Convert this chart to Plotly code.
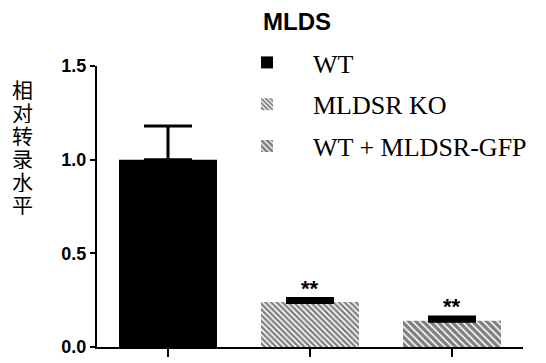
import plotly.graph_objects as go

groups = ["WT", "MLDSR KO", "WT + MLDSR-GFP"]
values = [1.0, 0.24, 0.14]
errors = [0.18, 0.016, 0.018]
sig_marks = ["", "**", "**"]
y_label_chars = ["相", "对", "转", "录", "水", "平"]
y_ticks = [0.0, 0.5, 1.0, 1.5]
title_text = "MLDS"

pattern_shapes = ["", "\\", "\\"]
pattern_sizes = [0, 4, 5]
pattern_solidity = [0, 0.6, 0.68]
err_thickness = [3, 4, 4]

fig = go.Figure()
for i, g in enumerate(groups):
    marker = dict(color="black" if i == 0 else "white", line=dict(width=0))
    if pattern_shapes[i]:
        marker["pattern"] = dict(shape=pattern_shapes[i], fgcolor="black", bgcolor="white",
                                 size=pattern_sizes[i], solidity=pattern_solidity[i])
    fig.add_trace(go.Bar(
        x=[i], y=[values[i]], name=g, width=0.69, marker=marker,
        legendgroup=g,
        error_y=dict(type="data", symmetric=False, array=[errors[i]], arrayminus=[0],
                     color="black", thickness=err_thickness[i], width=24),
    ))

W, H = 546, 363
L, R, T, B = 97, 23, 66, 16
ph = H - T - B
pw = W - L - R

annotations = []
for i, s in enumerate(sig_marks):
    if s:
        annotations.append(dict(x=i, y=values[i] + errors[i], text=s, showarrow=False,
                                 xref="x", yref="y", yanchor="bottom", yshift=-4,
                                 font=dict(family="Liberation Sans", size=22, color="black", weight="bold")))
for k, ch in enumerate(y_label_chars):
    py = 89 + 23 * k
    annotations.append(dict(x=(22 - L) / pw, y=(H - B - py) / ph, text=ch, showarrow=False,
                            xref="paper", yref="paper", xanchor="center", yanchor="middle",
                            height=22, borderpad=0,
                            font=dict(family="Noto Sans CJK SC", size=21, color="black")))

fig.update_layout(
    width=W, height=H,
    margin=dict(l=L, r=R, t=T, b=B),
    paper_bgcolor="white", plot_bgcolor="white",
    barmode="overlay",
    title=dict(text=title_text, x=297 / W, xanchor="center", y=1 - 22 / H, yanchor="middle",
               font=dict(family="Liberation Sans", size=24, color="black", weight="bold")),
    showlegend=True,
    legend=dict(x=(221 - L) / pw, xanchor="left", y=1 + 27 / ph, yanchor="top",
                font=dict(family="Liberation Serif", size=26, color="black"),
                tracegroupgap=5, itemwidth=82, bgcolor="rgba(0,0,0,0)", traceorder="grouped"),
    annotations=annotations,
)
fig.update_xaxes(range=[-0.5, 2.5], tickvals=[0, 1, 2], ticktext=["", "", ""],
                 ticks="outside", ticklen=8, tickwidth=2, tickcolor="black", automargin=False,
                 showline=True, linewidth=2, linecolor="black", showgrid=False, zeroline=False)
fig.update_yaxes(range=[0, 1.5], tickvals=y_ticks, ticktext=[f"{v:.1f}" for v in y_ticks],
                 ticks="outside", ticklen=5, tickwidth=2, tickcolor="black", automargin=False,
                 showline=True, linewidth=2, linecolor="black", showgrid=False, zeroline=False,
                 tickfont=dict(family="Liberation Sans", size=18, color="black", weight="bold"))

fig.write_html("out.html", config={"displayModeBar": False},
               post_script="document.body.style.margin='0';")
